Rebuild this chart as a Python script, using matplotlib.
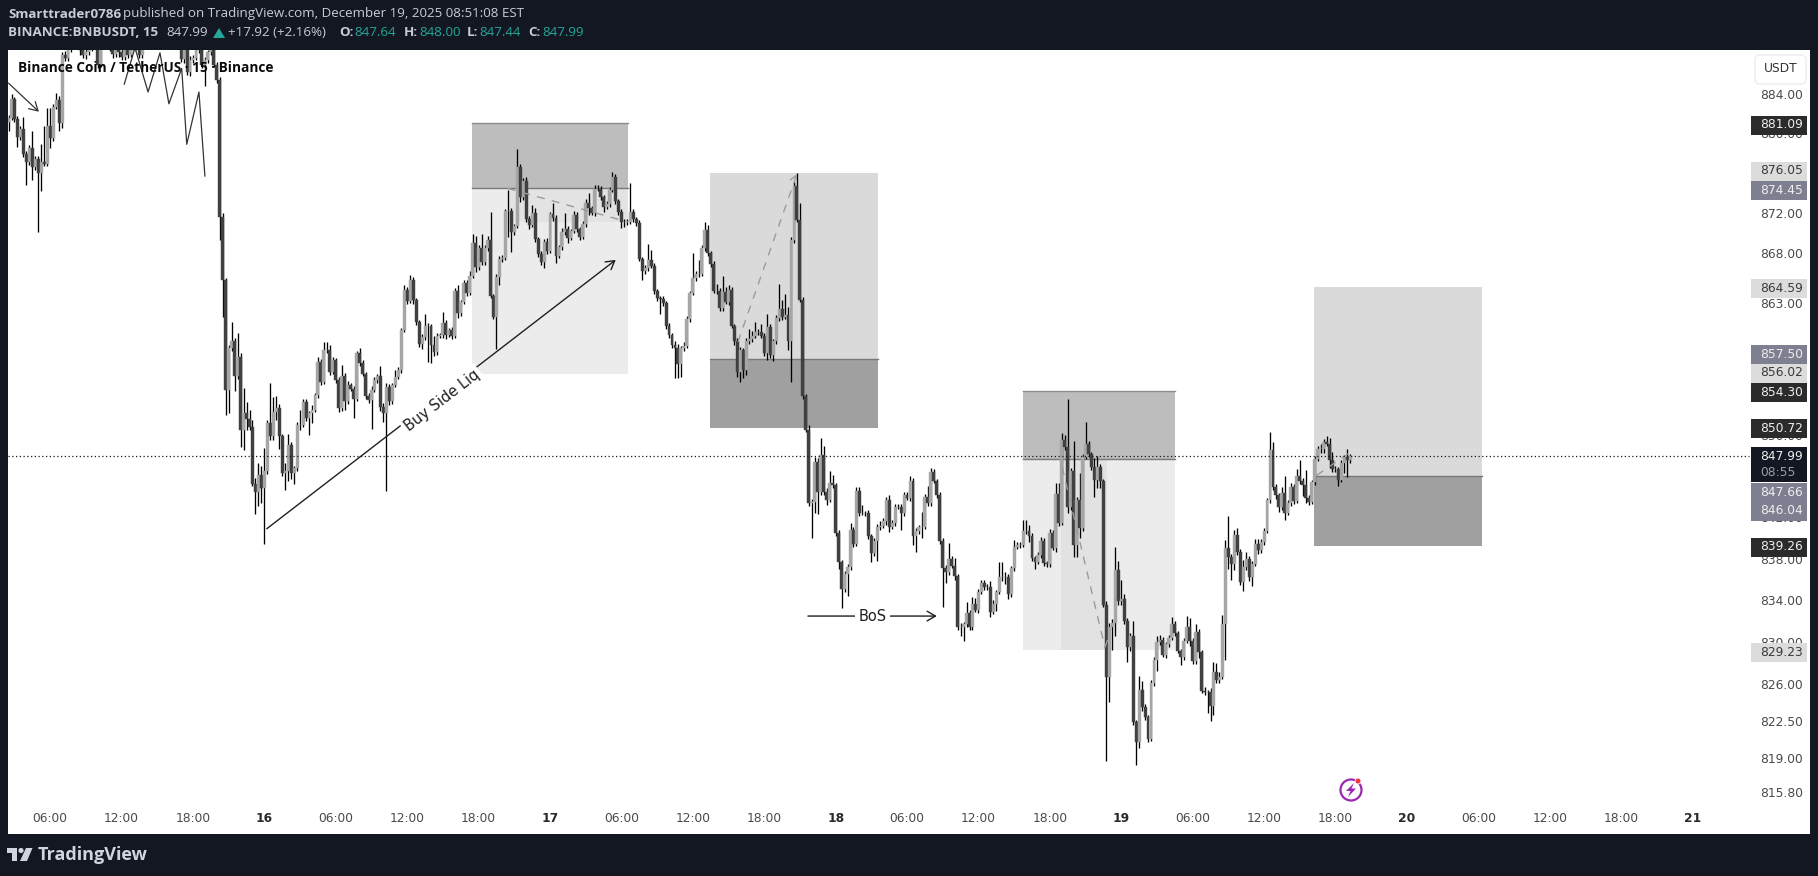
#!/usr/bin/python3
''' BNBUSDT 15m chart with trade boxes, drawn like a TradingView snapshot. '''
import numpy as np
import matplotlib
matplotlib.use('Agg')
import matplotlib.pyplot as plt
from matplotlib.patches import Rectangle, Circle, Polygon, FancyBboxPatch
from matplotlib.ticker import NullLocator, NullFormatter

# Candles, one close per 15 minute bar. Open is the close before.
first_open = 881.2
closes = [
    881.6, 883.5, 881.5, 879.6, 880.4, 877.9, 877.1, 878.5, 876.6, 877.4,
    876.0, 877.1, 876.9, 880.8, 879.5, 882.7, 883.4, 881.1, 888.0, 887.7,
    888.7, 888.9, 889.1, 889.3, 888.5, 888.0, 888.3, 888.6, 889.0, 889.0,
    886.9, 889.0, 889.3, 889.0, 888.7, 888.1, 888.7, 888.3, 887.8, 888.7,
    888.0, 888.8, 888.9, 889.1, 888.0, 888.9, 889.6, 889.6, 889.3, 889.1,
    889.3, 889.6, 889.8, 889.6, 889.3, 889.6, 889.1, 888.9, 887.6, 888.5,
    886.2, 887.5, 887.7, 888.5, 888.9, 887.0, 887.5, 888.3, 888.5, 887.0,
    885.4, 871.6, 865.3, 854.4, 858.6, 859.2, 855.8, 857.7, 850.5, 852.2,
    851.6, 850.8, 845.2, 844.5, 846.1, 844.8, 846.5, 851.2, 849.9, 852.3,
    852.7, 849.9, 846.3, 846.5, 849.0, 846.3, 846.8, 851.0, 851.0, 853.2,
    851.7, 852.2, 852.5, 853.9, 857.2, 855.2, 858.4, 858.4, 856.2, 857.4,
    855.4, 852.7, 855.8, 853.3, 854.9, 854.5, 853.5, 858.1, 857.1, 856.0,
    853.8, 853.4, 854.4, 855.4, 855.8, 852.8, 852.2, 854.7, 853.3, 854.9,
    855.7, 856.4, 860.3, 864.3, 863.2, 865.3, 863.3, 861.1, 859.0, 859.6,
    860.7, 860.7, 858.9, 858.2, 859.7, 859.8, 861.0, 859.8, 860.3, 859.7,
    864.2, 862.0, 863.1, 865.0, 864.0, 865.7, 869.0, 866.6, 868.5, 867.1,
    868.5, 869.3, 863.7, 861.6, 865.6, 867.4, 867.5, 872.2, 872.2, 870.1,
    870.7, 876.6, 873.6, 875.2, 871.4, 870.8, 872.0, 869.4, 867.9, 867.1,
    869.1, 868.2, 871.9, 871.5, 867.7, 868.6, 870.1, 870.4, 869.5, 870.2,
    871.8, 870.4, 869.6, 870.9, 873.0, 872.5, 872.0, 874.4, 874.4, 873.6,
    872.6, 872.9, 874.3, 875.6, 873.2, 872.1, 871.1, 871.1, 871.1, 872.1,
    871.4, 871.0, 867.4, 866.2, 866.5, 867.3, 866.7, 864.2, 863.5, 863.4,
    863.0, 860.7, 859.8, 858.9, 858.6, 857.0, 858.6, 858.8, 861.4, 864.0,
    865.5, 865.9, 865.9, 868.5, 870.3, 868.0, 866.9, 864.2, 864.2, 862.5,
    864.1, 863.1, 864.3, 860.7, 859.2, 856.2, 858.4, 856.4, 859.2, 859.4,
    859.7, 860.1, 860.1, 859.7, 858.1, 860.6, 857.9, 859.2, 861.5, 862.4,
    861.6, 861.8, 859.2, 869.3, 874.7, 871.3, 863.3, 853.8, 850.5, 843.4,
    843.5, 847.4, 844.5, 848.1, 844.5, 843.7, 845.3, 845.1, 840.5, 837.7,
    835.1, 836.5, 837.2, 840.8, 839.4, 844.6, 842.4, 842.4, 842.4, 840.2,
    838.6, 839.7, 841.1, 841.2, 841.6, 843.7, 841.1, 841.5, 843.0, 843.0,
    842.4, 844.2, 843.9, 845.5, 840.2, 840.7, 841.1, 841.1, 844.0, 843.4,
    846.4, 845.5, 844.2, 839.7, 837.1, 836.7, 838.0, 837.3, 836.3, 831.5,
    831.5, 831.7, 832.8, 831.5, 833.7, 833.1, 834.8, 835.7, 835.3, 835.3,
    832.9, 833.7, 834.8, 836.2, 836.2, 836.2, 834.6, 837.1, 839.1, 839.3,
    839.3, 840.7, 840.7, 840.2, 838.1, 837.7, 838.4, 839.7, 837.6, 837.5,
    840.5, 839.0, 844.3, 841.5, 849.5, 848.8, 843.0, 846.5, 839.3, 843.7,
    841.0, 847.9, 849.1, 848.2, 846.9, 845.6, 846.9, 845.5, 833.6, 826.7,
    831.5, 831.8, 836.9, 833.9, 834.1, 832.0, 829.5, 830.6, 822.4, 820.5,
    825.5, 823.8, 822.9, 820.8, 826.1, 828.3, 830.0, 830.2, 828.8, 829.8,
    830.4, 831.7, 830.9, 829.2, 828.6, 830.1, 831.5, 830.1, 828.2, 831.0,
    829.1, 825.4, 825.3, 825.3, 823.9, 827.2, 826.4, 826.7, 831.7, 839.0,
    838.2, 837.5, 840.3, 838.7, 835.8, 837.2, 838.0, 836.2, 837.5, 839.4,
    838.8, 839.6, 840.7, 843.7, 848.5, 844.9, 844.2, 843.0, 844.4, 842.4,
    843.4, 844.9, 843.6, 846.0, 845.5, 845.1, 843.9, 843.5, 845.4, 847.7,
    848.6, 848.6, 849.3, 849.1, 847.6, 846.7, 846.7, 845.6, 847.3, 847.9,
    847.6, 847.99,
]
upper_wicks = [
    .3, .5, .2, .3, .4, 1.3, .3, .3, 1.7, .3,
    .3, 1.8, 3.7, 1.8, 1.8, .3, .7, .4, .3, .4,
    .5, .3, .4, .3, .5, .3, .4, .3, .5, .3,
    .3, .4, .3, .5, .3, .4, .3, .2, .4, .3,
    .3, .4, .2, .3, .4, .3, .5, .3, .2, .4,
    .3, .3, .4, .2, .3, .4, .3, .5, .3, .4,
    .3, .4, .3, .5, .3, .4, .3, .2, .4, .3,
    .3, .3, .4, .2, .3, 1.9, .3, 2.3, .4, 2.4,
    1.0, .9, .7, .6, 1.2, .9, 2.2, .3, 3.9, 1.4,
    1.1, .3, .2, .8, 1.1, .3, .2, .3, 1.5, .3,
    .3, .2, .4, .2, .5, .3, .7, .7, .5, .3,
    .2, .3, 1.1, .3, .4, .2, .3, .2, .5, .3,
    .2, .3, .4, .3, .2, 1.0, .3, .4, .3, .2,
    .7, .3, .2, .5, .3, .5, .3, .2, .2, .3,
    1.2, .3, .2, .8, .3, .2, 1.1, .3, .2, .3,
    .3, .6, .2, .3, .3, .5, .9, .7, .3, 1.4,
    .3, .4, 2.8, .2, .3, .3, .3, .2, 2.1, .3,
    .2, 1.8, .3, .3, .4, .3, .8, .5, .2, .3,
    .3, .4, .2, 1.1, .3, .2, .4, 1.6, .3, .2,
    .4, .3, .2, .3, .4, 1.0, .2, .4, .4, .3,
    .2, .3, .3, .5, .3, .2, .3, .3, .3, 2.9,
    .3, .2, .3, .2, .3, 1.6, 1.0, .3, .2, .2,
    .3, .2, .3, .2, .3, .4, .2, .3, .3, .2,
    2.5, .3, 1.4, .3, .8, .5, .2, .3, .7, .3,
    1.6, .5, .5, .3, .2, .3, .3, .2, .3, 1.0,
    .5, 1.0, .3, .8, .3, 1.3, .3, .2, .3, 2.5,
    .9, 2.1, .8, .3, .4, 1.3, 1.7, .3, .2, .5,
    .3, .5, .4, 1.6, .8, .3, 1.2, .8, .2, .3,
    .2, .3, .3, .7, .3, .3, .3, .8, .2, .3,
    .2, .3, .3, .4, .3, .3, .5, .2, .3, .3,
    .3, .3, .3, .5, .3, .3, .2, 1.4, .3, 1.0,
    .4, .3, .2, .3, .3, .3, 1.5, .3, .8, .2,
    .3, .2, 1.0, .3, .6, .5, .3, .3, .3, .3,
    .6, .3, .2, 1.5, 1.5, .5, .3, .2, .7, .3,
    .3, 1.0, 1.0, .6, .3, .2, .3, .4, .3, .2,
    .4, .3, 1.0, 1.0, .7, .5, 4.7, .3, 2.9, .3,
    2.6, .3, 2.2, .3, .2, .9, 1.1, .3, .2, .3,
    .3, .4, 2.2, .9, 1.9, .5, .3, .3, 1.4, .2,
    1.3, .8, .3, .2, .3, .3, .6, .5, .3, .2,
    .3, .7, .3, .2, .2, .3, 1.0, .8, .3, .7,
    .3, .2, .3, .2, .3, .9, .8, .5, .9, .8,
    3.1, .3, .5, .7, .2, .7, .7, .3, .3, .5,
    .5, .3, .3, .2, 1.8, .8, .3, .2, .5, 1.6,
    .3, .4, .3, .7, 1.6, .3, 1.5, .3, .2, .3,
    .3, .5, .3, .6, .6, .8, .3, .2, .3, .2,
    .7, .2,
]
lower_wicks = [
    1.0, .2, .3, 1.0, .3, .3, 2.3, .3, 1.3, .3,
    5.9, 1.8, .2, .2, 1.0, .3, .2, .9, .6, .3,
    .3, .4, .2, .3, .5, .3, .4, .3, .2, .3,
    .3, .2, .4, .3, .3, .4, .3, .5, .3, .3,
    .3, .2, .3, .4, .3, .3, .2, .3, .4, .2,
    .3, .4, .3, .2, .3, .3, .4, .2, .3, .4,
    .3, .4, .3, .2, .3, .4, 2.2, .3, .3, .3,
    .3, 2.3, 3.7, 2.4, 2.2, .3, 1.5, .3, 1.7, 2.0,
    1.1, .3, .2, 2.2, 1.4, 1.4, 5.4, .3, .4, .4,
    .8, 1.3, .3, 1.6, 1.0, .6, 1.1, .3, .5, .2,
    .3, 1.7, 1.0, .2, .3, .3, .2, .3, .3, .2,
    .3, .4, .3, .8, .3, .2, 1.8, .2, .3, .2,
    .3, .3, 2.8, .2, .3, .4, .9, 7.6, .4, .3,
    .2, .2, .3, .2, .3, .2, .4, .3, .3, .5,
    .3, 3.5, 1.8, .4, .3, .2, .3, .4, .2, .3,
    .2, .5, .3, .2, .3, .2, .2, .5, .3, .3,
    .3, .3, .2, .2, 3.1, .8, .3, .2, 2.6, 2.0,
    .3, .2, .5, .3, .3, .4, .2, .3, .3, .3,
    .6, .3, .2, .3, .7, .2, .3, .3, .5, .2,
    .2, .3, .3, .2, .3, .7, .2, .3, .2, .3,
    .5, .2, .3, .2, .3, .3, .6, .5, .3, .2,
    .3, .3, .2, .9, .3, .3, .2, .3, .3, 1.5,
    .3, .3, .3, .3, 3.0, 1.4, 1.3, .3, .2, .3,
    .2, .3, .3, .2, .3, .3, .3, .2, .3, .3,
    .3, .2, .3, .2, .3, .5, 1.0, .8, .5, .2,
    .3, .2, .3, .2, .3, .7, .3, .6, .2, .3,
    .3, .2, .8, 4.0, .3, .2, .2, .3, .2, .3,
    3.4, 1.1, 2.2, .3, .3, .5, .2, .3, .3, .7,
    1.8, .3, 2.1, .3, .3, .2, .3, .2, .3, .3,
    .9, .3, 1.9, .3, .2, .3, .5, .2, .3, .2,
    1.6, .3, .2, .3, .9, 1.5, .3, 1.1, .2, .3,
    .3, .2, .3, .3, 3.7, 1.0, .3, .2, .3, .3,
    .9, 1.4, .2, .3, .3, .2, .3, .2, .3, .3,
    .5, .2, .7, .2, .3, .6, .5, .3, .3, .2,
    .3, .2, .3, .6, .3, .7, .2, .3, .3, .3,
    .3, .2, .3, .3, .2, .3, .6, .3, 1.1, 1.1,
    1.0, .3, .2, .3, .3, 1.6, .8, .7, .2, 8.0,
    2.4, 2.2, 1.2, .3, .3, .3, 1.4, .3, .3, 2.1,
    .5, .3, .3, .3, .2, .3, 1.0, .3, .2, .3,
    .3, .2, .3, .2, .8, .3, .2, .5, .3, .3,
    .6, .2, .3, 2.0, 1.4, .8, .3, .3, .2, 3.4,
    1.2, 1.5, .6, .3, .3, .9, .3, .3, .8, .2,
    .3, .2, .3, .2, .3, .2, .4, .5, .3, .7,
    .2, .3, .3, .2, .3, 1.0, .5, .3, .2, .3,
    .2, .3, .3, .2, .8, .3, .3, .6, .2, 1.0,
    1.7, .3,
]

# Axes values
price_ticks = [884.0, 880.0, 872.0, 868.0, 863.0, 850.0, 842.0, 838.0, 834.0,
               830.0, 826.0, 822.5, 819.0, 815.8]
time_ticks = [14, 38, 62, 86, 110, 134, 158, 182, 206, 230, 254, 278, 302, 326,
              350, 374, 398, 422, 446, 470, 494, 518, 542, 566]
time_labels = ['06:00', '12:00', '18:00', '16', '06:00', '12:00', '18:00', '17',
               '06:00', '12:00', '18:00', '18', '06:00', '12:00', '18:00', '19',
               '06:00', '12:00', '18:00', '20', '06:00', '12:00', '18:00', '21']
last_price = 847.99

# Trade boxes: start bar, end bar, top, entry, bottom
box_starts = [155.8, 235.8, 341.0, 438.8]
box_ends = [208.2, 292.3, 392.1, 495.3]
box_tops = [881.09, 876.05, 854.30, 864.59]
box_entries = [874.45, 857.50, 847.66, 846.04]
box_bottoms = [856.02, 850.72, 829.23, 839.26]

# Drawings
zigzag_bars = [38.9, 42.5, 46.9, 50.9, 53.9, 58.2, 59.9, 64.0, 66.0]
zigzag_prices = [885.0, 888.7, 884.2, 888.2, 883.0, 886.6, 878.9, 884.2, 875.7]
dash_bars = [(167.9, 208.0), (245.2, 265.0), (354.2, 368.6), (439.8, 450.3)]
dash_prices = [(874.45, 871.1), (859.2, 875.9), (846.8, 829.4), (846.1, 848.2)]

# Price tags on the right: text, fill, text colour, centre row in pixels
tag_labels = ['881.09', '876.05', '874.45', '864.59', '857.50', '856.02', '854.30',
              '850.72', '847.66', '846.04', '839.26', '829.23']
tag_fills = ['#2b2b2b', '#dcdcdc', '#7e8091', '#dcdcdc', '#7e8091', '#dcdcdc', '#2b2b2b',
             '#2b2b2b', '#7e8091', '#7e8091', '#2b2b2b', '#dcdcdc']
tag_rows = [125, 171, 190, 288, 354, 373, 392, 428, 492, 511, 547, 652]

W, H = 1818, 876
BG = '#131722'
UP = '#a6a6a6'
DOWN = '#404040'
FONT = 'DejaVu Sans'
HEAD_FONT = 'Open Sans'
TICK_SIZE = 8.8

plt.rcParams['font.family'] = [FONT]
fig = plt.figure(figsize=(W / 100, H / 100), dpi=100, facecolor=BG)
ax = fig.add_axes([8 / W, (H - 834) / H, 1802 / W, 784 / H], facecolor='white')

closes = np.array(closes)
opens = np.r_[first_open, closes[:-1]]
bars = np.arange(len(closes))
highs = np.maximum(opens, closes) + np.array(upper_wicks)
lows = np.minimum(opens, closes) - np.array(lower_wicks)
colors = [UP if c >= o else DOWN for o, c in zip(opens, closes)]

# Trade boxes go under the candles
fills = [('#bdbdbd', '#ececec'), ('#dadada', '#a0a0a0'),
         ('#bdbdbd', '#ececec'), ('#dadada', '#a0a0a0')]
for i in range(4):
    x0, x1 = box_starts[i], box_ends[i]
    w = x1 - x0
    ax.add_patch(Rectangle((x0, box_entries[i]), w, box_tops[i] - box_entries[i],
                           fc=fills[i][0], ec='none', zorder=1))
    ax.add_patch(Rectangle((x0, box_bottoms[i]), w, box_entries[i] - box_bottoms[i],
                           fc=fills[i][1], ec='none', zorder=1))
    ax.plot([x0, x1], [box_entries[i]] * 2, color='#787878', lw=1, zorder=1.5)
    if i in (0, 2):
        ax.plot([x0, x1], [box_tops[i]] * 2, color='#8c8c8c', lw=1, zorder=1.5)

# Slightly darker strips where the move ran
ax.add_patch(Rectangle((167.9, 871.1), 40.3, 3.35, fc='#e3e3e3', ec='none', zorder=1.2))
ax.add_patch(Rectangle((353.8, 829.23), 15.4, 18.43, fc='#e2e2e2', ec='none', zorder=1.2))

# Candles
ax.vlines(bars, lows, highs, color='black', lw=0.95, zorder=3)
ax.bar(bars, closes - opens, bottom=opens, width=0.98, color=colors,
       edgecolor=colors, linewidth=0.3, zorder=3.5)

# Dashed moves
for i in range(4):
    style = '-' if i in (0, 3) else '->,head_length=0.45,head_width=0.3'
    ax.annotate('', xy=(dash_bars[i][1], dash_prices[i][1]),
                xytext=(dash_bars[i][0], dash_prices[i][0]),
                arrowprops=dict(arrowstyle=style, color='#9a9aa0', lw=1, ls=(0, (5, 6)),
                                shrinkA=0, shrinkB=0), zorder=4)

# Hand drawn lines
arrow = '->,head_length=0.6,head_width=0.35'
ax.plot(zigzag_bars, zigzag_prices, color='#333333', lw=0.9, zorder=4)
ax.annotate('', xy=(10.2, 882.2), xytext=(0, 885.1),
            arrowprops=dict(arrowstyle=arrow, color='#333333', lw=0.9, shrinkA=0, shrinkB=0),
            zorder=4)
ax.annotate('', xy=(204.1, 867.3), xytext=(86.8, 840.9),
            arrowprops=dict(arrowstyle=arrow, color='#1f1f1f', lw=1, shrinkA=0, shrinkB=0),
            zorder=4)
ax.text(145.6, 853.4, 'Buy Side Liq', rotation=37.6, rotation_mode='anchor', ha='center',
        va='center', fontsize=10.5, color='#1f1f1f', zorder=5,
        bbox=dict(fc='white', ec='none', pad=2))
ax.annotate('', xy=(312.0, 832.5), xytext=(268.7, 832.5),
            arrowprops=dict(arrowstyle=arrow, color='#1f1f1f', lw=1, shrinkA=0, shrinkB=0),
            zorder=4)
ax.text(290.5, 832.5, 'BoS', ha='center', va='center', fontsize=10.5, color='#1f1f1f',
        zorder=5, bbox=dict(fc='white', ec='none', pad=2.5))

# Last price line
ax.plot([-0.2, 585], [last_price] * 2, color='#131722', lw=0.9, ls=(0, (1, 2)), zorder=4.5)

# Scales
ax.set_yscale('log')
ax.set_ylim(811.9, 888.48)
ax.set_xlim(-0.18, 605.5)
ax.yaxis.tick_right()
ax.set_yticks(price_ticks)
ax.set_yticklabels(['%.2f' % p for p in price_ticks], fontsize=TICK_SIZE, color='#4a4a4a')
ax.yaxis.set_minor_locator(NullLocator())
ax.yaxis.set_minor_formatter(NullFormatter())
ax.tick_params(axis='y', length=0, pad=-36)
ax.set_xticks(time_ticks)
ax.set_xticklabels(time_labels, fontsize=TICK_SIZE, color='#4a4a4a')
ax.tick_params(axis='x', length=0, pad=-16)
for label in ax.get_xticklabels():
    if ':' not in label.get_text():
        label.set_fontweight('bold')
        label.set_color('#2a2a2a')
for spine in ax.spines.values():
    spine.set_visible(False)

# Everything around the chart is laid out in pixels
top = fig.add_axes([0, 0, 1, 1], facecolor='none', zorder=10)
top.set_xlim(0, W)
top.set_ylim(H, 0)
top.axis('off')

# Header
grey = '#c9ccd3'
teal = '#26a69a'
header = [
    (8, 14, 'Smarttrader0786', 'bold', grey),
    (123, 14, 'published on TradingView.com, December 19, 2025 08:51:08 EST', 'normal', grey),
    (8, 33, 'BINANCE:BNBUSDT, 15', 'bold', grey),
    (166, 33, '847.99', 'normal', grey),
    (228, 33, '+17.92 (+2.16%)', 'normal', grey),
    (339, 33, 'O:', 'bold', grey),
    (354, 33, '847.64', 'normal', teal),
    (404, 33, 'H:', 'bold', grey),
    (419, 33, '848.00', 'normal', teal),
    (467, 33, 'L:', 'bold', grey),
    (479, 33, '847.44', 'normal', teal),
    (528, 33, 'C:', 'bold', grey),
    (542, 33, '847.99', 'normal', teal),
]
for x, y, s, weight, color in header:
    top.text(x, y, s, fontsize=9.6, family=HEAD_FONT, fontweight=weight, color=color,
             ha='left', va='center')
top.add_patch(Polygon([(213, 38), (225, 38), (219, 28)], fc=teal, ec='none'))

top.text(18, 68, 'Binance Coin / TetherUS \u00b7 15 \u00b7 Binance', fontsize=9.8,
         family=HEAD_FONT, fontweight='bold', color='#0a0a0a', ha='left', va='center')

# Price tags
for s, fill, row in zip(tag_labels, tag_fills, tag_rows):
    top.add_patch(Rectangle((1751, row - 9.5), 55.5, 19, fc=fill, ec='none'))
    text_color = '#3a3a3a' if fill == '#dcdcdc' else '#eeeeee'
    top.text(1760, row, s, fontsize=TICK_SIZE, color=text_color, ha='left', va='center')

top.add_patch(Rectangle((1751, 447), 55.5, 35, fc=BG, ec='none'))
top.text(1760, 457, '%.2f' % last_price, fontsize=TICK_SIZE, color='#eeeeee', ha='left',
         va='center')
top.text(1760, 473, '08:55', fontsize=TICK_SIZE, color='#9a9ca3', ha='left', va='center')

top.add_patch(FancyBboxPatch((1757, 57), 47, 25, boxstyle='round,pad=2,rounding_size=5',
                             fc='white', ec='#ececec', lw=1))
top.text(1780.5, 69, 'USDT', fontsize=TICK_SIZE, color='#333333', ha='center', va='center')

# Lightning badge
top.add_patch(Circle((1351, 790), 10.5, fc='none', ec='#9c27b0', lw=1.6))
top.add_patch(Polygon([(1354, 783), (1346, 791), (1350.5, 791), (1348, 797),
                       (1356, 788.5), (1351.5, 788.5)], fc='#9c27b0', ec='none'))
top.add_patch(Circle((1358, 781), 3, fc='#f23645', ec='white', lw=0.6))

# TradingView logo
logo = '#d1d4dc'
top.add_patch(Polygon([(7, 848), (17, 848), (17, 861), (12, 861), (12, 853), (7, 853)],
                      fc=logo, ec='none'))
top.add_patch(Circle((21, 850.5), 2.6, fc=logo, ec='none'))
top.add_patch(Polygon([(26, 848), (32.5, 848), (27, 861), (20, 861)], fc=logo, ec='none'))
top.text(38, 855, 'TradingView', fontsize=13, family=HEAD_FONT, fontweight='bold',
         color=logo, ha='left', va='center')

fig.savefig('out.png', dpi=100, facecolor=BG)
